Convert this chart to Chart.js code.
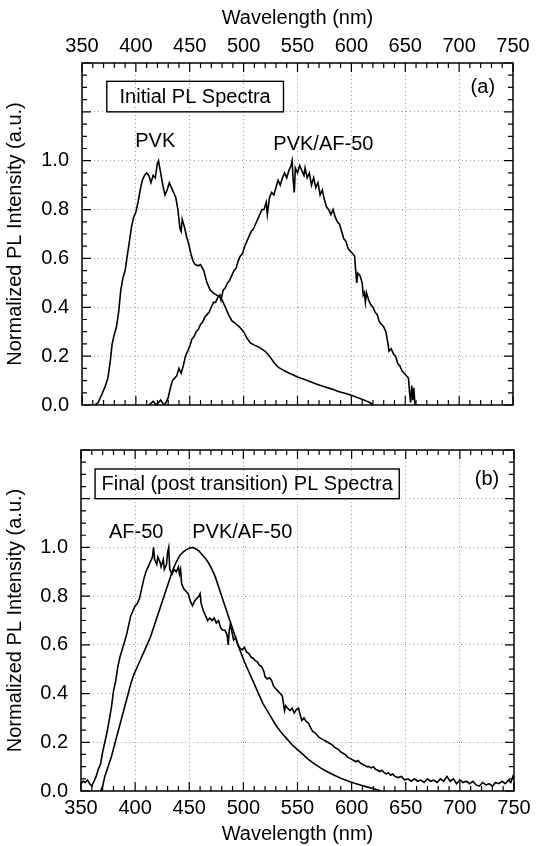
<!DOCTYPE html>
<html>
<head>
<meta charset="utf-8">
<script src="https://cdn.jsdelivr.net/npm/chart.js@4/dist/chart.umd.min.js"></script>
<style>
  body { margin: 0; background: #fff; }
  canvas { position: absolute; left: 0; }
</style>
</head>
<body>
<canvas id="chartA" width="540" height="430" style="top:0"></canvas>
<canvas id="chartB" width="540" height="421" style="top:425px"></canvas>
<script>
// tick values / labels
const xTicks = [350, 400, 450, 500, 550, 600, 650, 700, 750];
const yTicks = [0, 0.2, 0.4, 0.6, 0.8, 1.0, 1.2, 1.4];
const yTickLabels = ['0.0', '0.2', '0.4', '0.6', '0.8', '1.0', '', ''];

// (a) initial PL spectra: [wavelength nm, normalized intensity]
const pvkInitial = [[362,0],[365,0.01],[368,0.04],[371,0.07],[374,0.11],[376,0.17],[378,0.25],[380,0.29],[382,0.32],[384,0.38],[386,0.47],[388,0.52],[390,0.55],[392,0.61],[394,0.67],[396,0.73],[398,0.77],[400,0.79],[402,0.83],[404,0.88],[406,0.92],[408,0.94],[410,0.95],[412,0.94],[414,0.91],[416,0.94],[418,0.93],[420,0.99],[421,1.0],[423,0.95],[425,0.90],[427,0.86],[429,0.88],[431,0.91],[433,0.89],[435,0.87],[437,0.85],[439,0.80],[441,0.72],[442,0.71],[443,0.76],[445,0.73],[447,0.69],[449,0.66],[451,0.62],[453,0.59],[455,0.575],[458,0.57],[460,0.575],[463,0.55],[466,0.50],[469,0.47],[473,0.455],[477,0.445],[480,0.43],[483,0.40],[486,0.37],[489,0.345],[492,0.335],[496,0.32],[500,0.30],[503,0.275],[506,0.255],[510,0.245],[515,0.235],[520,0.22],[524,0.20],[528,0.175],[532,0.155],[536,0.145],[540,0.135],[545,0.125],[550,0.115],[556,0.105],[562,0.095],[568,0.085],[575,0.075],[582,0.065],[588,0.055],[594,0.048],[600,0.04],[606,0.03],[612,0.02],[617,0.01],[620,0]];

const blendInitial = [[412,0],[416,0.015],[419,0],[423,0.02],[426,0],[428,0.01],[430,0.03],[432,0.07],[434,0.1],[436,0.11],[438,0.12],[440,0.15],[442,0.13],[444,0.16],[446,0.2],[448,0.22],[450,0.24],[452,0.27],[454,0.28],[456,0.30],[458,0.31],[460,0.33],[462,0.34],[464,0.36],[466,0.37],[468,0.38],[470,0.40],[472,0.42],[474,0.42],[476,0.44],[478,0.45],[479,0.43],[481,0.47],[483,0.48],[485,0.50],[487,0.51],[489,0.53],[491,0.55],[493,0.56],[495,0.59],[497,0.61],[499,0.62],[501,0.65],[503,0.67],[505,0.69],[507,0.71],[509,0.72],[511,0.74],[513,0.76],[515,0.78],[517,0.80],[519,0.80],[521,0.83],[522,0.78],[524,0.85],[526,0.87],[528,0.86],[530,0.89],[532,0.92],[534,0.90],[536,0.93],[538,0.95],[540,0.93],[542,0.96],[544,0.98],[545,1.0],[546,0.92],[547,0.87],[548,0.97],[550,0.95],[552,0.98],[554,0.96],[556,0.94],[557,0.97],[559,0.93],[561,0.95],[563,0.90],[565,0.93],[567,0.89],[569,0.91],[571,0.86],[573,0.88],[575,0.84],[577,0.81],[579,0.80],[581,0.78],[583,0.80],[585,0.77],[587,0.75],[589,0.74],[591,0.71],[593,0.68],[595,0.67],[597,0.64],[599,0.63],[601,0.62],[603,0.61],[604,0.55],[605,0.50],[606,0.54],[608,0.53],[610,0.50],[611,0.45],[612,0.46],[613,0.42],[614,0.46],[616,0.43],[618,0.41],[620,0.40],[622,0.38],[624,0.37],[626,0.34],[628,0.33],[630,0.32],[632,0.30],[634,0.25],[635,0.22],[637,0.23],[639,0.21],[641,0.20],[643,0.17],[645,0.16],[647,0.14],[649,0.13],[651,0.12],[653,0.11],[654,0.05],[655,0.01],[656,0.08],[657,0.02],[658,0.07],[659,0],[662,0]];

// (b) final (post transition) PL spectra
const af50Final = [[350,0.03],[352,0.04],[354,0.035],[356,0.045],[358,0.03],[360,0.02],[362,0.04],[364,0.06],[366,0.09],[368,0.11],[370,0.16],[372,0.2],[374,0.24],[376,0.29],[378,0.34],[380,0.41],[382,0.45],[384,0.51],[386,0.55],[388,0.58],[390,0.61],[392,0.64],[394,0.68],[396,0.72],[398,0.74],[400,0.76],[402,0.77],[404,0.79],[406,0.83],[408,0.87],[410,0.90],[412,0.92],[414,0.94],[416,0.96],[417,1.0],[418,0.95],[420,0.93],[421,0.96],[423,0.94],[424,0.92],[426,0.95],[427,0.91],[429,0.93],[430,0.98],[431,1.0],[432,0.91],[434,0.89],[436,0.91],[438,0.90],[440,0.92],[441,0.89],[442,0.91],[443,0.85],[445,0.83],[447,0.82],[449,0.81],[451,0.78],[453,0.76],[455,0.78],[457,0.79],[459,0.80],[460,0.81],[461,0.77],[463,0.74],[465,0.72],[467,0.70],[469,0.71],[471,0.70],[473,0.71],[475,0.69],[477,0.70],[479,0.67],[481,0.66],[483,0.66],[485,0.64],[486,0.60],[487,0.66],[488,0.685],[490,0.64],[491,0.62],[493,0.63],[495,0.60],[497,0.585],[499,0.58],[501,0.59],[503,0.57],[505,0.565],[507,0.55],[509,0.545],[511,0.535],[513,0.53],[515,0.515],[517,0.51],[519,0.49],[520,0.47],[522,0.46],[524,0.465],[526,0.455],[528,0.43],[530,0.42],[532,0.41],[534,0.40],[536,0.39],[538,0.33],[539,0.35],[541,0.34],[543,0.33],[545,0.34],[547,0.32],[549,0.335],[551,0.34],[552,0.32],[554,0.29],[556,0.30],[558,0.285],[560,0.28],[562,0.26],[564,0.245],[566,0.24],[568,0.23],[570,0.22],[572,0.215],[574,0.21],[576,0.205],[578,0.2],[580,0.195],[582,0.19],[584,0.18],[586,0.175],[588,0.17],[590,0.16],[592,0.155],[594,0.15],[596,0.14],[598,0.135],[600,0.13],[602,0.125],[604,0.12],[606,0.125],[608,0.115],[610,0.11],[612,0.105],[614,0.10],[616,0.10],[618,0.095],[620,0.10],[622,0.09],[624,0.085],[626,0.08],[628,0.085],[630,0.075],[632,0.07],[634,0.075],[636,0.065],[638,0.07],[640,0.06],[643,0.055],[646,0.06],[649,0.045],[652,0.05],[655,0.04],[658,0.05],[661,0.04],[664,0.045],[667,0.035],[670,0.05],[673,0.04],[676,0.045],[679,0.035],[682,0.05],[685,0.04],[688,0.06],[691,0.04],[694,0.05],[697,0.03],[700,0.045],[703,0.035],[706,0.04],[709,0.03],[712,0.04],[715,0.025],[718,0.02],[721,0.035],[724,0.025],[727,0.03],[730,0.02],[733,0.035],[736,0.03],[739,0.04],[742,0.03],[745,0.045],[747,0.035],[749,0.06],[750,0.05]];

const blendFinal = [[368,0],[370,0.02],[372,0.06],[375,0.10],[378,0.14],[381,0.19],[384,0.24],[387,0.29],[390,0.34],[393,0.39],[396,0.44],[399,0.48],[402,0.51],[405,0.54],[408,0.57],[411,0.60],[414,0.63],[417,0.67],[420,0.71],[423,0.75],[426,0.79],[429,0.83],[432,0.87],[435,0.91],[438,0.94],[441,0.965],[444,0.98],[447,0.99],[450,0.997],[453,1.0],[456,0.995],[459,0.985],[462,0.97],[465,0.955],[468,0.935],[471,0.91],[474,0.88],[477,0.84],[480,0.80],[483,0.76],[486,0.72],[489,0.68],[492,0.64],[495,0.60],[498,0.565],[501,0.53],[504,0.50],[507,0.47],[510,0.44],[514,0.40],[518,0.36],[522,0.33],[526,0.30],[530,0.27],[535,0.24],[540,0.215],[545,0.19],[550,0.17],[555,0.15],[560,0.13],[566,0.11],[572,0.093],[578,0.078],[584,0.065],[590,0.052],[596,0.042],[602,0.033],[608,0.025],[614,0.017],[620,0.01],[625,0.003],[627,0]];

Chart.defaults.font.family = "'Liberation Sans', Arial, Helvetica, sans-serif";
Chart.defaults.font.size = 20;
Chart.defaults.color = '#000';

// frame, inward ticks (major + minor), annotation text and boxes
const framePlugin = {
  id: 'frame',
  afterDatasetsDraw(chart, args, opts) {
    const {ctx, chartArea: a} = chart;
    const xs = chart.scales.x, ys = chart.scales.y;
    ctx.save();
    ctx.strokeStyle = '#000';
    ctx.lineWidth = 1.5;
    ctx.strokeRect(a.left, a.top, a.right - a.left, a.bottom - a.top);

    ctx.lineWidth = 1.2;
    ctx.beginPath();
    for (let v = 350; v <= 750; v += 10) {
      const px = xs.getPixelForValue(v);
      const len = v % 50 === 0 ? 9 : 5;
      ctx.moveTo(px, a.bottom); ctx.lineTo(px, a.bottom - len);
      ctx.moveTo(px, a.top); ctx.lineTo(px, a.top + len);
    }
    for (let i = 0; i <= 28; i++) {
      const py = ys.getPixelForValue(i * 0.05);
      const len = i % 4 === 0 ? 9 : 5;
      ctx.moveTo(a.left, py); ctx.lineTo(a.left + len, py);
      ctx.moveTo(a.right, py); ctx.lineTo(a.right - len, py);
    }
    ctx.stroke();

    if (opts.box) {
      const b = opts.box;
      const x0 = xs.getPixelForValue(b.x0), x1 = xs.getPixelForValue(b.x1);
      const y0 = ys.getPixelForValue(b.y0), y1 = ys.getPixelForValue(b.y1);
      ctx.lineWidth = 1.4;
      ctx.strokeRect(x0, y1, x1 - x0, y0 - y1);
      ctx.font = "20px 'Liberation Sans', Arial, sans-serif";
      ctx.fillStyle = '#000';
      ctx.textAlign = 'center';
      ctx.textBaseline = 'middle';
      ctx.fillText(b.text, (x0 + x1) / 2, (y0 + y1) / 2 + 1);
    }
    (opts.labels || []).forEach(l => {
      ctx.font = "20px 'Liberation Sans', Arial, sans-serif";
      ctx.fillStyle = '#000';
      ctx.textAlign = 'center';
      ctx.textBaseline = 'middle';
      ctx.fillText(l.text, xs.getPixelForValue(l.x), ys.getPixelForValue(l.y));
    });
    ctx.restore();
  }
};

function lineSet(pairs) {
  return {
    data: pairs.map(p => ({x: p[0], y: p[1]})),
    showLine: true,
    borderColor: '#000',
    borderWidth: 1.6,
    pointRadius: 0,
    tension: 0
  };
}

function edgeHidden(min, max) {
  return c => (Math.abs(c.tick.value - min) < 1e-6 || Math.abs(c.tick.value - max) < 1e-6)
    ? 'rgba(0,0,0,0)' : '#9a9a9a';
}

function makeChart(id, series, xPos, axisSize, yWidth, padding, frameOpts) {
  new Chart(document.getElementById(id), {
    type: 'scatter',
    data: { datasets: series.map(lineSet) },
    options: {
      responsive: false,
      animation: false,
      layout: { padding: padding },
      plugins: { legend: { display: false }, tooltip: { enabled: false }, frame: frameOpts },
      scales: {
        x: {
          type: 'linear',
          position: xPos,
          min: 350, max: 750,
          afterBuildTicks: s => { s.ticks = xTicks.map(v => ({value: v})); },
          afterFit: s => { s.height = axisSize; },
          ticks: { padding: 5, maxRotation: 0, autoSkip: false },
          grid: { color: edgeHidden(350, 750), lineWidth: 1, drawTicks: false },
          border: { display: false, dash: [1, 3] },
          title: { display: true, text: 'Wavelength (nm)', padding: { top: xPos === 'top' ? 6 : 4, bottom: 0 } }
        },
        y: {
          type: 'linear',
          min: 0, max: 1.4,
          afterBuildTicks: s => { s.ticks = yTicks.map(v => ({value: v})); },
          afterFit: s => { s.width = yWidth; },
          ticks: {
            padding: 13,
            autoSkip: false,
            callback: (v) => yTickLabels[yTicks.findIndex(t => Math.abs(t - v) < 1e-6)] || ''
          },
          grid: { color: edgeHidden(0, 1.4), lineWidth: 1, drawTicks: false },
          border: { display: false, dash: [1, 3] },
          title: { display: true, text: 'Normalized PL Intensity (a.u.)', padding: { top: 3, bottom: 0 } }
        }
      }
    },
    plugins: [framePlugin]
  });
}

makeChart('chartA', [pvkInitial, blendInitial], 'top', 63, 82,
  { left: 0, right: 27, top: 0, bottom: 20 },
  {
    box: { text: 'Initial PL Spectra', x0: 373, x1: 537, y0: 1.2, y1: 1.325 },
    labels: [
      { text: 'PVK', x: 418, y: 1.08 },
      { text: 'PVK/AF-50', x: 574, y: 1.065 },
      { text: '(a)', x: 722, y: 1.30 }
    ]
  });

makeChart('chartB', [af50Final, blendFinal], 'bottom', 55, 81,
  { left: 0, right: 26, top: 18, bottom: 0 },
  {
    box: { text: 'Final (post transition) PL Spectra', x0: 363, x1: 644, y0: 1.2, y1: 1.322 },
    labels: [
      { text: 'AF-50', x: 401, y: 1.06 },
      { text: 'PVK/AF-50', x: 499, y: 1.06 },
      { text: '(b)', x: 725, y: 1.28 }
    ]
  });
</script>
</body>
</html>
